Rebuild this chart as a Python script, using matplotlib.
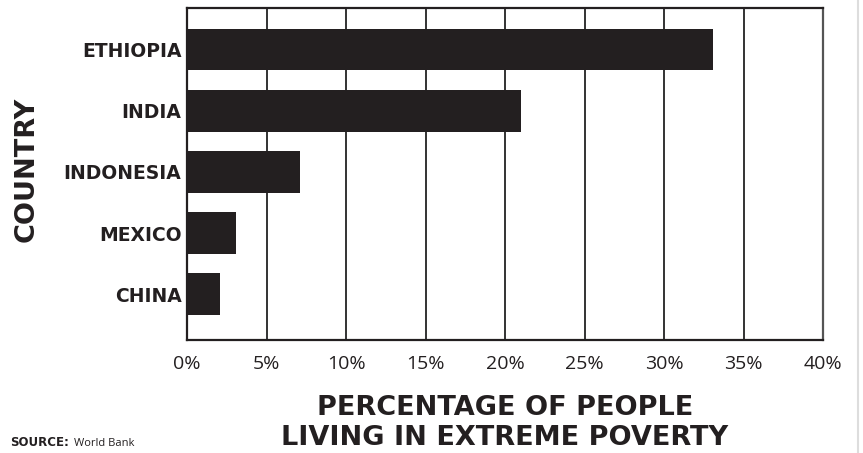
import matplotlib.pyplot as plt
from matplotlib.lines import Line2D

# Данные (World Bank)
countries = ["ETHIOPIA", "INDIA", "INDONESIA", "MEXICO", "CHINA"]
poverty = [33.1, 21.0, 7.1, 3.1, 2.1]
ticks = [0, 5, 10, 15, 20, 25, 30, 35, 40]
tick_labels = [f"{t}%" for t in ticks]

plt.rcParams['font.family'] = ['Open Sans', 'DejaVu Sans']
ink = '#231f20'
bold_font = 'DejaVu Sans'

fig = plt.figure(figsize=(8.63, 4.53), dpi=100)
ax = fig.add_axes([0.2167, 0.2494, 0.737, 0.7329])

pos = list(range(len(countries)))[::-1]
ax.barh(pos, poverty, height=0.68, color=ink, zorder=3)

ax.set_xlim(0, 40)
ax.set_ylim(-0.75, 4.68)
ax.set_xticks(ticks)
ax.set_xticklabels(tick_labels, fontsize=14, fontweight='medium', color=ink)
ax.set_yticks(pos)
ax.set_yticklabels(countries, fontsize=13.5, fontweight='bold', family=bold_font, color=ink)
ax.tick_params(axis='both', length=0)
ax.tick_params(axis='x', pad=11)
ax.tick_params(axis='y', pad=4)
ax.xaxis.grid(True, color='#333333', linewidth=1.4, zorder=1)

for s in ax.spines.values():
    s.set_color(ink)
    s.set_linewidth(1.6)
ax.spines['right'].set_color('#555555')

ax.set_ylabel('COUNTRY', fontsize=19.5, fontweight='bold', family=bold_font, color=ink)
ax.yaxis.set_label_coords(-0.231, 0.513)

# подпись оси X в две строки
fig.text(0.585, 0.0993, 'PERCENTAGE OF PEOPLE', ha='center', va='center',
         fontsize=19.5, fontweight='bold', family=bold_font, color=ink)
fig.text(0.585, 0.0331, 'LIVING IN EXTREME POVERTY', ha='center', va='center',
         fontsize=19.5, fontweight='bold', family=bold_font, color=ink)

fig.text(0.012, 0.015, 'SOURCE:', fontsize=8.5, fontweight='bold', family=bold_font, color=ink)
fig.text(0.086, 0.015, 'World Bank', fontsize=8, color=ink)

# светлая линия справа
fig.add_artist(Line2D([0.994, 0.994], [0, 1], color='#dddddd', linewidth=1.5))

fig.savefig('out.png', dpi=100)
